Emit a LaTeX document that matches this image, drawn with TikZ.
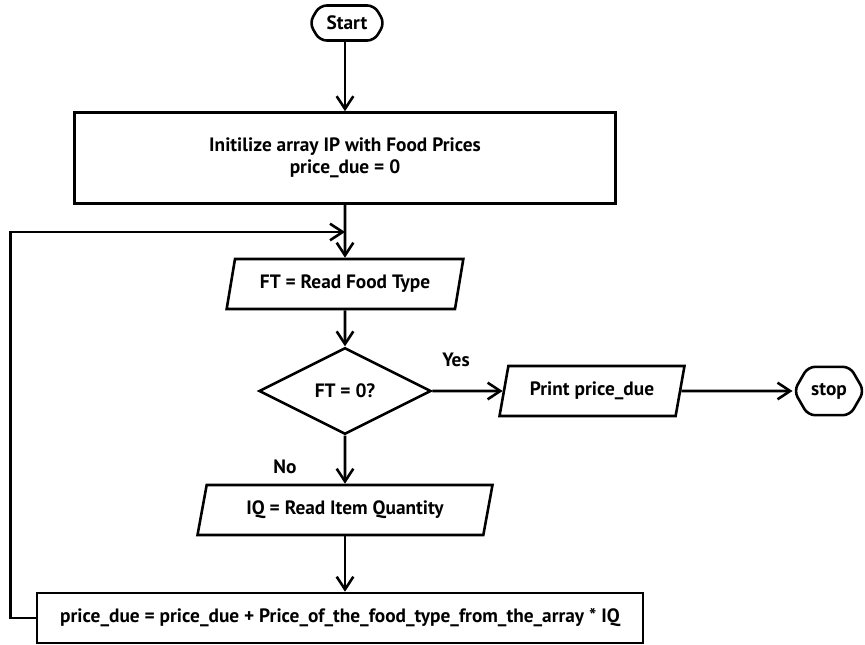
\documentclass[tikz,border=0pt]{standalone}
\usepackage{fontspec}
\setmainfont{PT Sans}
\usetikzlibrary{shapes.geometric,shapes.symbols,arrows.meta}
\begin{document}
\begin{tikzpicture}[>={Straight Barb[length=3.8mm,width=5mm]},x=0.03cm,y=-0.03cm,line width=2.2pt,
	every node/.style={font=\bfseries\fontsize{16.5}{19}\selectfont},
	term/.style={draw,signal,signal to=east and west,signal pointer angle=120,rounded corners=6pt,inner sep=1pt},
	procbox/.style={draw,rectangle,inner sep=0pt,align=center},
	iobox/.style={draw,trapezium,trapezium left angle=70,trapezium right angle=110,trapezium stretches=true,minimum height=1.5cm,inner sep=0pt},
	decide/.style={draw,diamond,minimum width=5.16cm,minimum height=2.6cm,inner sep=0pt}]
	\useasboundingbox (0,0) rectangle (865,645);
	\node[term,minimum width=2.25cm,minimum height=1.05cm] (start) at (347,23) {Start};
	\node[procbox,minimum width=16.23cm,minimum height=2.73cm] (init) at (345,158) {Initilize array IP with Food Prices\\price\_due = 0};
	\node[iobox,minimum width=7.11cm] (ft) at (345,284) {FT = Read Food Type};
	\node[decide] (dec) at (345,391) {FT = 0?};
	\node[iobox,minimum width=5.55cm] (print) at (592,391) {Print price\_due};
	\node[term,minimum width=2.1cm,minimum height=1.45cm] (stop) at (829,391) {stop};
	\node[iobox,minimum width=8.85cm] (iq) at (345,510) {IQ = Read Item Quantity};
	\node[procbox,minimum width=18.18cm,minimum height=1.5cm] (upd) at (340,618) {price\_due = price\_due + Price\_of\_the\_food\_type\_from\_the\_array * IQ};
	\node (yes) at (456,360) {Yes};
	\node (no) at (285,467) {No};
	\coordinate (join) at (345,232);
	\draw[->] (start.south -| init.north) -- (init);
	\draw[->] (init) -- (ft);
	\draw[->] (ft) -- (dec);
	\draw[->] (dec) -- (print);
	\draw[->] (print) -- (stop);
	\draw[->] (dec) -- (iq);
	\draw[->] (iq.south) -- (iq.south |- upd.north);
	\draw[->] (upd.west) -- ++(-25,0) |- (join); % back to the read step
\end{tikzpicture}
\end{document}
